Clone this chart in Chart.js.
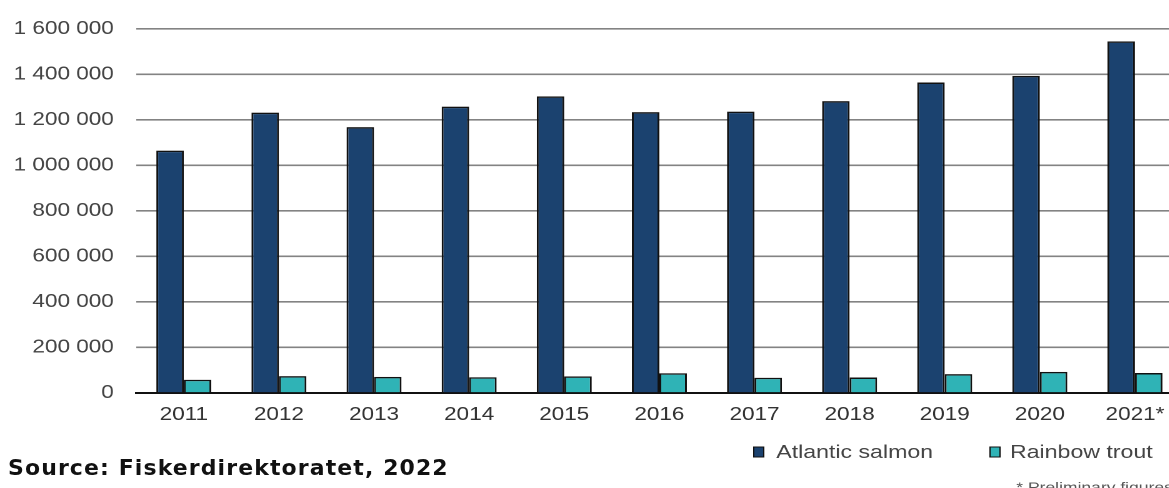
<!DOCTYPE html>
<html>
<head>
<meta charset="utf-8">
<script src="https://cdn.jsdelivr.net/npm/chart.js@4"></script>
<style>
  html, body { margin: 0; padding: 0; background: #fff; overflow: hidden; width: 1169px; height: 488px; }
  #wrap { position: absolute; left: 0; top: 0; width: 955px; height: 488px; transform: scaleX(1.25); transform-origin: 0 0; }
  #src { position: absolute; left: 8px; top: 455px; font-family: "DejaVu Sans", sans-serif; font-weight: bold; font-size: 22px; letter-spacing: 1.1px; color: #111; white-space: nowrap; }
</style>
</head>
<body>
<div id="wrap"><canvas id="c" width="955" height="488"></canvas></div>
<div id="src">Source: Fiskerdirektoratet, 2022</div>
<script>
const categories = ["2011", "2012", "2013", "2014", "2015", "2016", "2017", "2018", "2019", "2020", "2021*"];
const salmonLabel = "Atlantic salmon";
const troutLabel = "Rainbow trout";
const salmonValues = [1065000, 1232000, 1168000, 1258000, 1303000, 1234000, 1236000, 1282000, 1364000, 1393000, 1545000];
const troutValues = [58000, 74000, 71000, 69000, 73000, 87000, 67000, 68000, 83000, 93000, 88000];
const yTicks = [0, 200000, 400000, 600000, 800000, 1000000, 1200000, 1400000, 1600000];
const footnote = "* Preliminary figures";

const FONT = "'Liberation Sans', Arial, sans-serif";

function fmt(v) {
  return String(v).replace(/\B(?=(\d{3})+(?!\d))/g, " ");
}

const legendPlugin = {
  id: "customLegend",
  afterDraw(chart) {
    const ctx = chart.ctx;
    const ds = chart.data.datasets;
    const pos = [[603, 621], [792, 808]];
    ctx.save();
    ctx.font = "18.5px " + FONT;
    ctx.textBaseline = "middle";
    ds.forEach((d, i) => {
      const [bx, tx] = pos[i];
      ctx.fillStyle = d.backgroundColor;
      ctx.strokeStyle = "#111";
      ctx.lineWidth = 1;
      ctx.fillRect(bx, 447, 8, 10);
      ctx.strokeRect(bx, 447, 8, 10);
      ctx.fillStyle = "#444";
      ctx.fillText(d.label, tx, 453);
    });
    ctx.font = "14px " + FONT;
    ctx.fillStyle = "#555";
    ctx.fillText(footnote, 813, 488);
    ctx.restore();
  }
};

const chart = new Chart(document.getElementById("c"), {
  type: "bar",
  data: {
    labels: categories,
    datasets: [
      { label: salmonLabel, data: salmonValues, backgroundColor: "#1b426f", borderColor: "#111", borderWidth: 1.5, categoryPercentage: 0.578, barPercentage: 1 },
      { label: troutLabel, data: troutValues, backgroundColor: "#2fb3b6", borderColor: "#111", borderWidth: 1.5, categoryPercentage: 0.578, barPercentage: 1 }
    ]
  },
  options: {
    responsive: false,
    animation: false,
    devicePixelRatio: 2,
    layout: { padding: { top: 22, right: 9, bottom: 0, left: 0 } },
    plugins: { legend: { display: false }, tooltip: { enabled: false } },
    scales: {
      x: {
        grid: { display: false, drawTicks: false },
        border: { display: true, color: "#111", width: 2 },
        ticks: { color: "#333", font: { family: FONT, size: 18 }, padding: 11, maxRotation: 0 },
        afterFit(scale) { scale.height = 95; }
      },
      y: {
        min: 0,
        max: 1600000,
        afterBuildTicks(scale) { scale.ticks = yTicks.map(v => ({ value: v })); },
        grid: { color: "#838383", lineWidth: 1.6, drawTicks: false },
        border: { display: false },
        ticks: { color: "#444", font: { family: FONT, size: 18 }, padding: 18, callback: v => fmt(v) },
        afterFit(scale) { scale.width = 109; }
      }
    }
  },
  plugins: [legendPlugin]
});

// Align the plot area top with the reference (gridline 1 600 000 at y = 25)
const diffTop = chart.chartArea.top - 25;
if (Math.abs(diffTop) > 0.2) {
  chart.options.layout.padding.top -= diffTop;
  chart.update();
}
</script>
</body>
</html>
